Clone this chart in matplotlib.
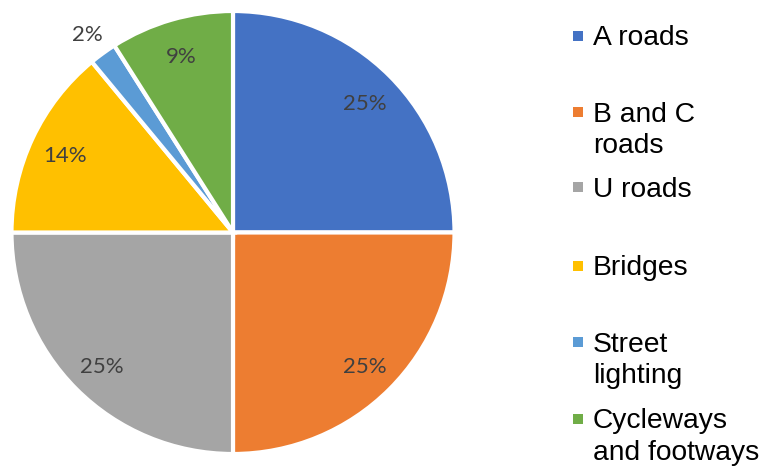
import matplotlib
matplotlib.use("Agg")
import matplotlib.pyplot as plt
import numpy as np

categories = ["A roads", "B and C\nroads", "U roads", "Bridges", "Street\nlighting", "Cycleways\nand footways"]
values = [25, 25, 25, 14, 2, 9]
colors = ["#4472C4", "#ED7D31", "#A5A5A5", "#FFC000", "#5B9BD5", "#70AD47"]

W, H = 769, 468
fig = plt.figure(figsize=(W / 100, H / 100), dpi=100)

cx, cy, R = 233, 232.5, 221.5
ax = fig.add_axes([(cx - R) / W, (H - cy - R) / H, 2 * R / W, 2 * R / H])
wedges, _ = ax.pie(values, colors=colors, startangle=90, counterclock=False, radius=1,
                   wedgeprops=dict(edgecolor="white", linewidth=3.0))
ax.set_xlim(-1, 1)
ax.set_ylim(-1, 1)
ax.set_aspect("equal")
ax.axis("off")

total = sum(values)
for w, v in zip(wedges, values):
    ang = np.deg2rad((w.theta1 + w.theta2) / 2)
    frac = v / total
    d = 1.12 if frac < 0.05 else 0.84
    ax.text(d * np.cos(ang), d * np.sin(ang) - 3 / R, f"{v / total * 100:.0f}%",
            ha="center", va="center", fontsize=16, color="#404040", family="Lato")

# legend drawn in pixel coordinates
lax = fig.add_axes([0, 0, 1, 1])
lax.set_xlim(0, W)
lax.set_ylim(H, 0)
lax.axis("off")
first_baselines = [45, 121.7, 196.7, 275, 351.7, 428]
line_gap = 31.7
for lab, col, yb in zip(categories, colors, first_baselines):
    lax.add_patch(plt.Rectangle((573, yb - 14.5), 10, 10, color=col, lw=0))
    for i, line in enumerate(lab.split("\n")):
        lax.text(593, yb + i * line_gap, line, ha="left", va="baseline",
                 fontsize=20.3, family="Liberation Sans", color="black")

fig.savefig("out.png", dpi=100)
